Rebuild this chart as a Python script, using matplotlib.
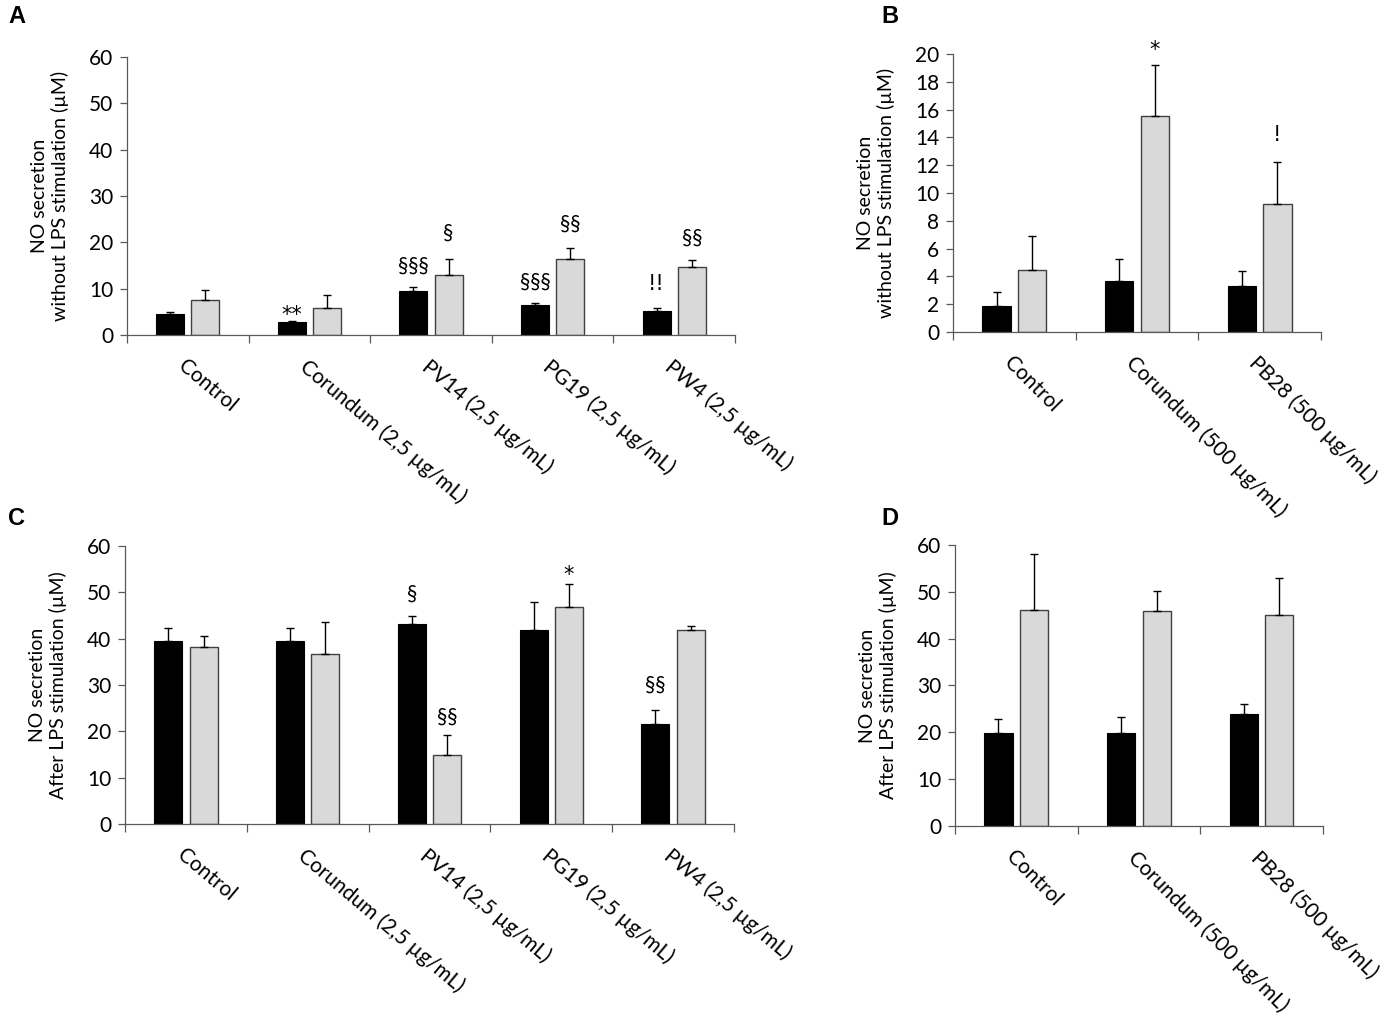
import matplotlib
matplotlib.use("Agg")
import matplotlib.pyplot as plt
import numpy as np

plt.rcParams['font.family'] = ['Lato', 'DejaVu Sans']

# panel A / C categories
cats_ac = ["Control", "Corundum (2,5 µg/mL)", "PV14 (2,5 µg/mL)",
           "PG19 (2,5 µg/mL)", "PW4 (2,5 µg/mL)"]
# panel B / D categories
cats_bd = ["Control", "Corundum (500 µg/mL)", "PB28 (500 µg/mL)"]

# A: without LPS
a_black = [4.5, 2.8, 9.6, 6.4, 5.2]
a_black_err = [0.4, 0.3, 0.8, 0.4, 0.7]
a_gray = [7.5, 5.9, 12.9, 16.5, 14.7]
a_gray_err = [2.2, 2.8, 3.5, 2.3, 1.4]
a_marks_black = ["", "**", "§§§", "§§§", "!!"]
a_marks_black_y = [0, 4.4, 15.0, 11.5, 11.0]
a_marks_gray = ["", "", "§", "§§", "§§"]
a_marks_gray_y = [0, 0, 22.0, 24.0, 21.0]

# B: without LPS
b_black = [1.84, 3.69, 3.28]
b_black_err = [1.0, 1.58, 1.1]
b_gray = [4.43, 15.54, 9.22]
b_gray_err = [2.44, 3.66, 3.02]
b_marks_gray = ["", "*", "!"]
b_marks_gray_y = [0, 20.3, 14.2]

# C: after LPS
c_black = [39.4, 39.4, 43.2, 41.8, 21.6]
c_black_err = [3.0, 2.8, 1.6, 6.1, 3.1]
c_gray = [38.2, 36.7, 14.9, 46.9, 41.9]
c_gray_err = [2.4, 7.0, 4.2, 4.8, 0.8]
c_marks_black = ["", "", "§", "", "§§"]
c_marks_black_y = [0, 0, 49.8, 0, 30.0]
c_marks_gray = ["", "", "§§", "*", ""]
c_marks_gray_y = [0, 0, 23.2, 53.8, 0]

# D: after LPS
d_black = [19.8, 19.9, 24.0]
d_black_err = [3.0, 3.4, 2.0]
d_gray = [46.2, 45.9, 45.1]
d_gray_err = [11.9, 4.3, 7.8]

fig = plt.figure(figsize=(13.86, 10.13), dpi=100)

label_without = "NO secretion\nwithout LPS stimulation (µM)"
label_after = "NO secretion\nAfter LPS stimulation (µM)"


def draw_panel(rect, cats, black, black_err, gray, gray_err, ymax, ystep,
               ylabel, rot, lab_fs, marks=None):
    ax = fig.add_axes(rect)
    x = np.arange(len(cats))
    w = 0.23
    off = 0.145
    ax.bar(x - off, black, w, color="black", edgecolor="black", linewidth=0.8, zorder=2)
    ax.bar(x + off, gray, w, color="#d9d9d9", edgecolor="#404040", linewidth=1.0, zorder=2)
    ax.errorbar(x - off, black, yerr=[np.zeros(len(x)), black_err], fmt="none",
                ecolor="black", elinewidth=1.0, capsize=3, capthick=1.0, zorder=3)
    ax.errorbar(x + off, gray, yerr=[np.zeros(len(x)), gray_err], fmt="none",
                ecolor="black", elinewidth=1.0, capsize=3, capthick=1.0, zorder=3)
    if marks:
        for side, txts, ys in marks:
            for i, (t, yv) in enumerate(zip(txts, ys)):
                if not t:
                    continue
                if "§" in t:
                    ax.text(i + side * off, yv, t, ha="center", va="center",
                            fontsize=15, clip_on=False)
                else:
                    ax.text(i + side * off, yv, t, ha="center", va="center",
                            fontsize=15, family="DejaVu Sans", clip_on=False)
    ax.set_xlim(-0.5, len(cats) - 0.5)
    ax.set_ylim(0, ymax)
    ax.set_yticks(np.arange(0, ymax + 0.1, ystep))
    ax.set_xticks(np.arange(len(cats) + 1) - 0.5)
    ax.set_xticklabels([])
    ax.tick_params(axis="y", labelsize=15, length=5, width=0.9, color="#595959", pad=5)
    ax.tick_params(axis="x", length=6, width=0.9, color="#595959")
    for s in ["top", "right"]:
        ax.spines[s].set_visible(False)
    for s in ["left", "bottom"]:
        ax.spines[s].set_color("#595959")
        ax.spines[s].set_linewidth(0.9)
    for i, c in enumerate(cats):
        ax.text(i, -0.075, c, rotation=rot, rotation_mode="anchor",
                ha="left", va="top", fontsize=lab_fs, transform=ax.get_xaxis_transform())
    ax.set_ylabel(ylabel, fontsize=14, labelpad=14, linespacing=1.25)
    return ax


axA = draw_panel([0.0916, 0.6693, 0.4387, 0.2744], cats_ac, a_black, a_black_err,
                 a_gray, a_gray_err, 60, 10, label_without, -40, 15,
                 marks=[(-1, a_marks_black, a_marks_black_y),
                        (1, a_marks_gray, a_marks_gray_y)])
axB = draw_panel([0.6876, 0.6723, 0.2655, 0.2744], cats_bd, b_black, b_black_err,
                 b_gray, b_gray_err, 20, 2, label_without, -45, 15,
                 marks=[(1, b_marks_gray, b_marks_gray_y)])
axC = draw_panel([0.0902, 0.1866, 0.4394, 0.2744], cats_ac, c_black, c_black_err,
                 c_gray, c_gray_err, 60, 10, label_after, -40, 15,
                 marks=[(-1, c_marks_black, c_marks_black_y),
                        (1, c_marks_gray, c_marks_gray_y)])
axD = draw_panel([0.689, 0.1846, 0.2655, 0.2774], cats_bd, d_black, d_black_err,
                 d_gray, d_gray_err, 60, 10, label_after, -45, 15)

for lx, ly, lt in [(0.006, 0.984, "A"), (0.636, 0.984, "B"),
                   (0.006, 0.488, "C"), (0.636, 0.488, "D")]:
    fig.text(lx, ly, lt, fontsize=17, fontweight="bold", ha="left", va="center",
             family="Liberation Sans")

fig.savefig("out.png", dpi=100)
